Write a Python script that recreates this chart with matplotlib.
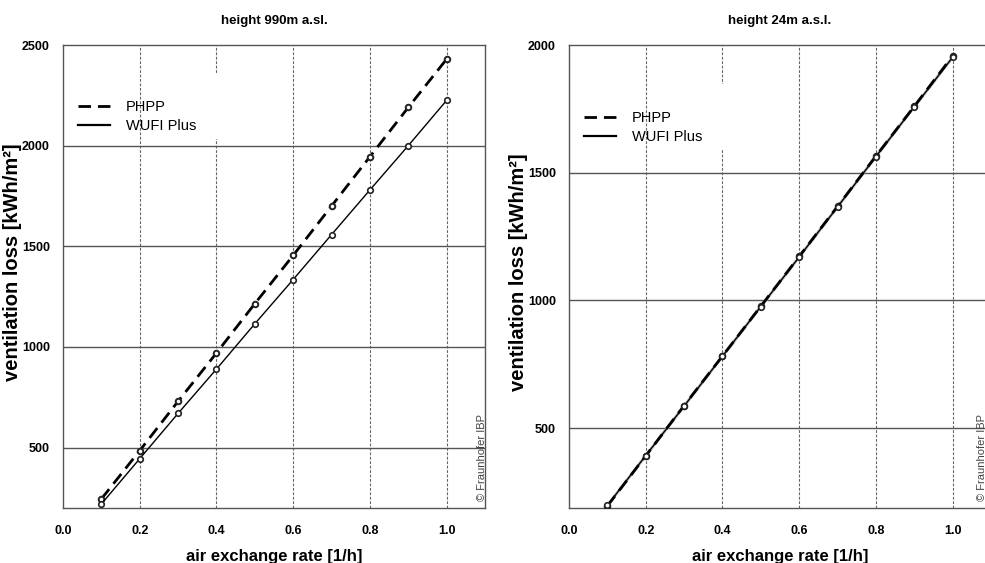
import numpy as np
import matplotlib
matplotlib.use("Agg")
import matplotlib.pyplot as plt
from matplotlib.patches import Rectangle
from matplotlib.lines import Line2D

plt.rcParams['font.family'] = ['Liberation Sans', 'DejaVu Sans']

# air exchange rate [1/h]
rate = [0.1, 0.2, 0.3, 0.4, 0.5, 0.6, 0.7, 0.8, 0.9, 1.0]

# height 990 m a.s.l.
phpp_990 = [245, 485, 730, 970, 1215, 1455, 1700, 1945, 2190, 2430]
wufi_990 = [220, 445, 670, 890, 1115, 1335, 1558, 1780, 2000, 2225]

# height 24 m a.s.l.
phpp_24 = [195, 391, 588, 782, 977, 1172, 1368, 1565, 1760, 1957]
wufi_24 = [197, 392, 586, 781, 976, 1170, 1366, 1563, 1758, 1952]

panels = [
    ("height 990m a.sl.", phpp_990, wufi_990, (200, 2500), [500, 1000, 1500, 2000, 2500], 0.798, 0.845, 0.992, 0.53),
    ("height 24m a.s.l.", phpp_24, wufi_24, (187, 2000), [500, 1000, 1500, 2000], 0.776, 0.822, 0.979, 0.51),
]

W, H = 985, 563
fig = plt.figure(figsize=(W / 100, H / 100), dpi=100)
lefts = [63, 569]

for (title, phpp, wufi, ylim, yticks, rect_y, leg_y, copy_x, ylab_y), x0 in zip(panels, lefts):
    ax = fig.add_axes([x0 / W, (H - 508) / H, 422 / W, 463 / H])
    ax.set_xlim(0, 1.1)
    ax.set_ylim(*ylim)

    # white box behind legend (hides part of the grid as in the original)
    ax.add_patch(Rectangle((0, rect_y), 0.45, 0.14, transform=ax.transAxes,
                           facecolor='white', edgecolor='none', zorder=2.5))

    for xv in [0.2, 0.4, 0.6, 0.8, 1.0]:
        ax.axvline(xv, color='#666666', lw=0.8, ls=(0, (2.5, 1.5)),
                   zorder=2 if xv == 0.4 else 3)
    for yv in yticks:
        if ylim[0] < yv < ylim[1]:
            ax.axhline(yv, color='#555555', lw=1.0, zorder=3)

    if phpp is phpp_24:
        ax.plot(rate, wufi, color='#bbbbbb', lw=2.2, zorder=3.5)
    ax.plot(rate, phpp, color='black', lw=2.0, ls=(0, (4.5, 2.5)), marker='o',
            ms=4, mfc='white', mec='#222222', mew=1.4, zorder=4)
    ax.plot(rate, wufi, color='black', lw=1.0, marker='o',
            ms=4, mfc='white', mec='#222222', mew=1.2, zorder=4.2)

    handles = [Line2D([], [], color='black', lw=2.0, ls=(0, (4.5, 2.5))),
               Line2D([], [], color='black', lw=1.6)]
    ax.legend(handles, ['PHPP', 'WUFI Plus'], loc='center left',
              bbox_to_anchor=(0.0, leg_y), frameon=False,
              fontsize=10.5, handlelength=2.2, handletextpad=1.1,
              labelspacing=0.35, borderaxespad=0.6)

    ax.set_xticks([0.0, 0.2, 0.4, 0.6, 0.8, 1.0])
    ax.set_xticklabels(['0.0', '0.2', '0.4', '0.6', '0.8', '1.0'])
    ax.set_yticks(yticks)
    ax.tick_params(length=0, labelsize=9)
    for lab in ax.get_xticklabels() + ax.get_yticklabels():
        lab.set_fontweight('bold')
    ax.tick_params(axis='y', pad=9.5)
    ax.tick_params(axis='x', pad=12)

    ax.set_title(title, fontsize=9.5, fontweight='bold', pad=15)
    ax.set_xlabel('air exchange rate [1/h]', fontsize=12, fontweight='bold', labelpad=9)
    ax.set_ylabel('ventilation loss [kWh/m²]', fontsize=14.5, fontweight='bold')
    ax.yaxis.set_label_coords(-0.096, ylab_y)

    for sp in ax.spines.values():
        sp.set_color('#555555')
        sp.set_linewidth(1.0)

    ax.text(copy_x, 0.015, '© Fraunhofer IBP', transform=ax.transAxes, rotation=90,
            ha='center', va='bottom', fontsize=8, color='#444444', zorder=5)

fig.savefig('out.png', dpi=100)
